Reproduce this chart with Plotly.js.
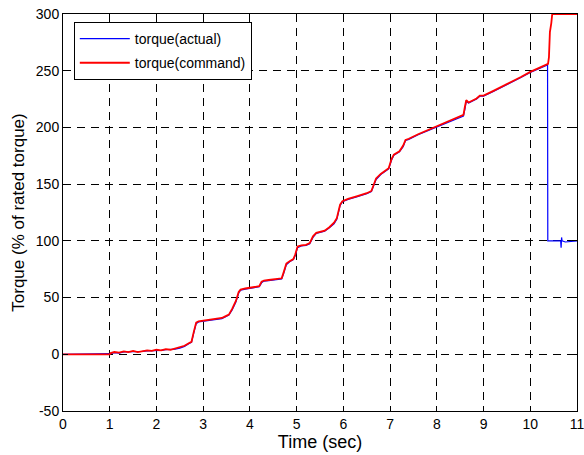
<!DOCTYPE html>
<html>
<head>
<meta charset="utf-8">
<script src="https://cdn.plot.ly/plotly-3.0.1.min.js"></script>
<style>html,body{margin:0;padding:0;background:#fff;}#chart{width:584px;height:455px;}</style>
</head>
<body>
<div id="chart"></div>
<script>
// Shared time base (sec) and torque values (% of rated torque)
var timeCommand = [0, 1.0, 1.02, 1.1, 1.2, 1.3, 1.4, 1.5, 1.6, 1.7, 1.8, 1.9, 2.0, 2.1, 2.2, 2.3, 2.4, 2.5, 2.6, 2.7, 2.75, 2.8, 2.85, 2.9, 3.0, 3.1, 3.2, 3.3, 3.4, 3.45, 3.55, 3.62, 3.7, 3.76, 3.8, 3.9, 4.0, 4.1, 4.2, 4.25, 4.3, 4.4, 4.5, 4.6, 4.68, 4.72, 4.78, 4.85, 4.93, 4.97, 5.02, 5.1, 5.2, 5.28, 5.35, 5.42, 5.5, 5.6, 5.7, 5.8, 5.86, 5.93, 5.98, 6.1, 6.3, 6.5, 6.6, 6.65, 6.7, 6.8, 6.9, 6.97, 7.03, 7.08, 7.2, 7.28, 7.33, 7.4, 7.6, 7.8, 8.0, 8.2, 8.4, 8.57, 8.6, 8.63, 8.68, 8.75, 8.85, 8.92, 9.0, 9.2, 9.4, 9.6, 9.8, 10.0, 10.2, 10.38, 10.4, 10.42, 10.45, 10.47, 11.0];
var torqueCommand = [0, 0, 1, 2, 1.5, 2.5, 2, 3, 2, 3, 3.5, 3, 4, 3.5, 4.5, 4, 5, 6, 7.5, 10, 11, 20, 28, 29, 29.5, 30, 30.5, 31, 32, 33, 35, 40, 47, 55, 57, 58, 58.5, 59, 60, 64, 65, 65.5, 66, 66.5, 67, 72, 80, 82, 84, 88, 95, 96, 96.5, 98, 104, 107, 108, 109, 112, 116, 120, 132, 135, 137, 139.5, 142, 144, 150, 155, 159, 162, 164, 172, 176, 179, 184, 189, 190, 194, 197.5, 201, 204.5, 208, 211, 218, 224, 222, 223.5, 225.5, 228, 228, 232, 236, 240, 244.5, 249, 252.5, 256, 262, 284, 292, 300, 300];

var timeActual = [0, 1.0, 1.02, 1.1, 1.2, 1.3, 1.4, 1.5, 1.6, 1.7, 1.8, 1.9, 2.0, 2.1, 2.2, 2.3, 2.4, 2.5, 2.6, 2.7, 2.75, 2.8, 2.85, 2.9, 3.0, 3.1, 3.2, 3.3, 3.4, 3.45, 3.55, 3.62, 3.7, 3.76, 3.8, 3.9, 4.0, 4.1, 4.2, 4.25, 4.3, 4.4, 4.5, 4.6, 4.68, 4.72, 4.78, 4.85, 4.93, 4.97, 5.02, 5.1, 5.2, 5.28, 5.35, 5.42, 5.5, 5.6, 5.7, 5.8, 5.86, 5.93, 5.98, 6.1, 6.3, 6.5, 6.6, 6.65, 6.7, 6.8, 6.9, 6.97, 7.03, 7.08, 7.2, 7.28, 7.33, 7.4, 7.6, 7.8, 8.0, 8.2, 8.4, 8.57, 8.6, 8.63, 8.68, 8.75, 8.85, 8.92, 9.0, 9.2, 9.4, 9.6, 9.8, 10.0, 10.2, 10.37, 10.375, 10.6, 10.65, 10.66, 10.67, 10.68, 10.75, 11.0];
var torqueActual = [0, 0, 0.5, 1.5, 1, 2, 2, 2.5, 2, 2.5, 3, 3, 3.5, 3.5, 4, 4, 4.5, 5.5, 7, 9.5, 10.5, 19, 27, 28.5, 29, 29.5, 30, 30.5, 31.5, 32.5, 34.5, 39, 46, 54, 56.5, 57.5, 58, 58.5, 59.5, 63, 64.5, 65, 65.5, 66, 66.5, 71, 79, 81.5, 83.5, 87, 94, 95.5, 96, 97.5, 103, 106.5, 107.5, 108.5, 111.5, 115, 119, 131, 134.5, 136.5, 139, 141.5, 143.5, 149, 154, 158.5, 161.5, 163.5, 171, 175.5, 178.5, 183, 188.5, 189.5, 193.5, 197, 200.5, 204, 207.5, 210, 216, 223, 221.5, 223, 225, 227.5, 227.5, 231.5, 235.5, 239.5, 244, 248.5, 252, 255, 100, 100, 100, 94, 103, 100, 99, 100];

var xTickVals = [0, 1, 2, 3, 4, 5, 6, 7, 8, 9, 10, 11];
var yTickVals = [-50, 0, 50, 100, 150, 200, 250, 300];

var traces = [
  {x: timeActual, y: torqueActual, type: 'scatter', mode: 'lines', name: 'torque(actual)',
   legendgroup: 'a', line: {color: '#0000ff', width: 1.2}},
  {x: timeCommand, y: torqueCommand, type: 'scatter', mode: 'lines', name: 'torque(command)',
   legendgroup: 'c', line: {color: '#ff0000', width: 1.8}}
];

var axisCommon = {
  showline: true, linecolor: '#000', linewidth: 1, mirror: 'ticks',
  ticks: 'inside', ticklen: 5, tickcolor: '#000',
  showgrid: true, gridcolor: '#000', gridwidth: 1, griddash: '8px,6px',
  zeroline: false, ticklabeloverflow: 'allow',
  tickfont: {family: 'Liberation Sans, Arial, sans-serif', size: 14, color: '#000'}
};

var layout = {
  width: 584, height: 455,
  margin: {l: 63, r: 7, t: 14, b: 44},
  paper_bgcolor: '#fff', plot_bgcolor: '#fff',
  font: {family: 'Liberation Sans, Arial, sans-serif', color: '#000'},
  xaxis: Object.assign({}, axisCommon, {
    range: [0, 11], tickvals: xTickVals, ticktext: xTickVals.map(String),
    title: {text: 'Time (sec)', font: {size: 18}, standoff: 1}
  }),
  yaxis: Object.assign({}, axisCommon, {
    range: [-50, 300], tickvals: yTickVals, ticktext: yTickVals.map(String),
    title: {text: 'Torque (% of rated torque)', font: {size: 17}, standoff: 6}
  }),
  showlegend: true,
  legend: {
    x: 0.021, y: 0.98, xanchor: 'left', yanchor: 'top',
    bgcolor: '#fff', bordercolor: '#000', borderwidth: 1,
    font: {size: 14, color: '#000'}, itemwidth: 50, tracegroupgap: 3
  }
};

Plotly.newPlot('chart', traces, layout, {displayModeBar: false, staticPlot: true});
</script>
</body>
</html>
